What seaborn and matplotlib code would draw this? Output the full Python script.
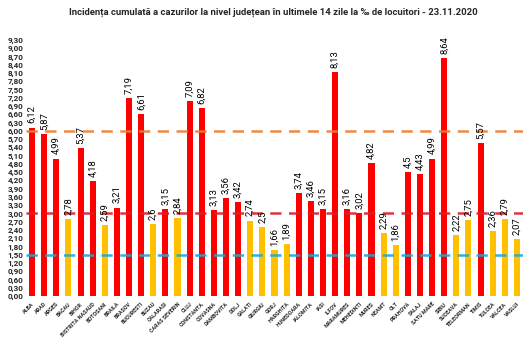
import matplotlib
matplotlib.use("Agg")
import matplotlib.pyplot as plt
import seaborn as sns
import numpy as np
import pandas as pd

counties = ["ALBA", "ARAD", "ARGES", "BACAU", "BIHOR", "BISTRITA NASAUD", "BOTOSANI",
            "BRAILA", "BRASOV", "BUCURESTI", "BUZAU", "CALARASI", "CARAS SEVERIN", "CLUJ",
            "CONSTANTA", "COVASNA", "DAMBOVITA", "DOLJ", "GALATI", "GIURGIU", "GORJ",
            "HARGHITA", "HUNEDOARA", "IALOMITA", "IASI", "ILFOV", "MARAMURES", "MEHEDINTI",
            "MURES", "NEAMT", "OLT", "PRAHOVA", "SALAJ", "SATU MARE", "SIBIU", "SUCEAVA",
            "TELEORMAN", "TIMIS", "TULCEA", "VALCEA", "VASLUI"]
values = [6.12, 5.87, 4.99, 2.78, 5.37, 4.18, 2.59,
          3.21, 7.19, 6.61, 2.6, 3.15, 2.84, 7.09,
          6.82, 3.13, 3.56, 3.42, 2.74, 2.5, 1.66,
          1.89, 3.74, 3.46, 3.15, 8.13, 3.16, 3.02,
          4.82, 2.29, 1.86, 4.5, 4.43, 4.99, 8.64, 2.22,
          2.75, 5.57, 2.36, 2.79, 2.07]
thresholds = [1.5, 3.0, 6.0]
threshold_colors = ["#1CA7E0", "#D8202A", "#ED7D31"]
ytick_values = [round(0.3 * i, 2) for i in range(32)]

def fmt(v):
    s = ("%.2f" % v).rstrip("0").rstrip(".")
    return s.replace(".", ",")

df = pd.DataFrame({"county": counties, "value": values})
df["level"] = np.where(df["value"] > 3.0, "high", "mid")

sns.set_theme(style="white")
plt.rcParams["font.family"] = ["Roboto", "DejaVu Sans"]

fig = plt.figure(figsize=(5.25, 3.5), dpi=100)
ax = fig.add_axes([26 / 525, 54 / 350, 497 / 525, 256 / 350])

sns.barplot(data=df, x="county", y="value", hue="level", order=counties,
            palette={"high": "#FF0000", "mid": "#FFC000"}, dodge=False,
            width=0.5, legend=False, ax=ax, saturation=1, linewidth=0)

for t, c in zip(thresholds, threshold_colors):
    ax.axhline(t, color=c, lw=1.8, ls=(0, (4.5, 3)), zorder=5, alpha=0.9)

for i, v in enumerate(values):
    ax.annotate(fmt(v), (i, v), xytext=(0, 3), textcoords="offset points",
                rotation=90, ha="center", va="bottom", fontsize=6.8,
                color="black", annotation_clip=False, zorder=6)

ax.set_xlim(-0.5, len(counties) - 0.5)
ax.set_ylim(0, 9.3)
ax.set_yticks(ytick_values)
ax.set_yticklabels([("%.2f" % v).replace(".", ",") for v in ytick_values],
                   fontsize=5.8, fontweight="bold")
ax.set_xticks(range(len(counties)))
ax.set_xticklabels(counties, rotation=45, ha="right", rotation_mode="anchor",
                   fontsize=3.9, fontweight="bold")
ax.tick_params(axis="both", length=0, pad=2)
ax.tick_params(axis="x", pad=4)
ax.set_xlabel("")
ax.set_ylabel("")
for s in ax.spines.values():
    s.set_visible(False)

fig.text(0.52, 0.965, "Incidența cumulată a cazurilor la nivel județean în ultimele 14 zile la ‰ de locuitori - 23.11.2020",
         ha="center", va="center", fontsize=6.8, fontweight="bold")

fig.savefig("out.png", dpi=100)
